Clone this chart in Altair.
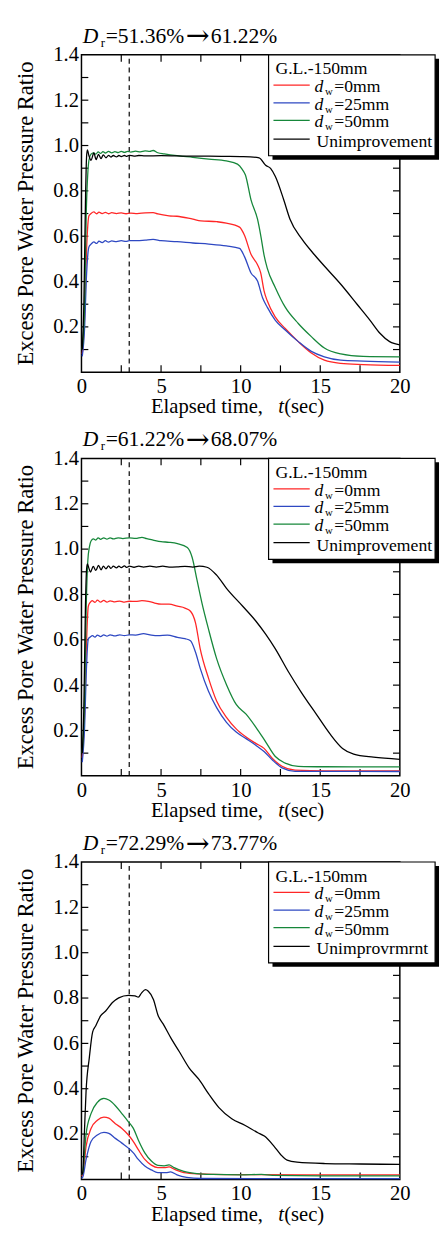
import altair as alt
import pandas as pd

FONT = "Liberation Serif"
W, H = 325, 324

# ---------------- data (t [s], excess pore water pressure ratio) ----------------
P1_RED = [(0.05,0.08),(0.2,0.25),(0.3,0.5),(0.4,0.65),(0.47,0.69),(0.6,0.7),(0.78,0.707),(0.95,0.699),
          (1.1,0.706),(1.3,0.7),(1.5,0.705),(1.7,0.699),(1.9,0.704),(2.2,0.7),(2.5,0.703),(2.8,0.699),
          (3.1,0.702),(3.5,0.7),(4.0,0.703),(4.5,0.704),(4.8,0.698),(5.5,0.69),(6.0,0.688),(7.0,0.675),
          (7.5,0.668),(8.5,0.664),(9.1,0.658),(9.93,0.64),(10.24,0.604),(10.65,0.52),(11.06,0.474),
          (11.26,0.438),(11.47,0.359),(11.67,0.315),(12.18,0.243),(12.8,0.193),(13.62,0.135),(14.44,0.085),
          (15.26,0.053),(16.29,0.039),(17.7,0.034),(20.0,0.03)]
P1_BLUE = [(0.05,0.07),(0.2,0.2),(0.3,0.4),(0.4,0.52),(0.47,0.553),(0.6,0.565),(0.78,0.575),(0.95,0.568),
           (1.1,0.578),(1.3,0.572),(1.5,0.58),(1.7,0.574),(1.9,0.579),(2.2,0.576),(2.5,0.58),(2.8,0.577),
           (3.0,0.58),(3.5,0.58),(4.0,0.583),(4.5,0.586),(5.0,0.58),(6.0,0.576),(7.0,0.57),(8.0,0.565),
           (9.1,0.557),(9.93,0.546),(10.24,0.51),(10.65,0.438),(11.06,0.402),(11.37,0.33),(11.67,0.287),
           (12.18,0.229),(12.8,0.186),(13.62,0.135),(14.44,0.092),(15.26,0.068),(16.29,0.053),(17.7,0.049),
           (20.0,0.045)]
P1_GREEN = [(0.05,0.1),(0.2,0.3),(0.3,0.7),(0.4,0.88),(0.47,0.935),(0.6,0.962),(0.75,0.968),(0.9,0.962),
            (1.05,0.972),(1.2,0.965),(1.35,0.973),(1.5,0.967),(1.7,0.974),(1.9,0.968),(2.1,0.973),(2.3,0.969),
            (2.5,0.974),(2.7,0.97),(2.9,0.974),(3.1,0.971),(3.4,0.975),(3.7,0.972),(4.0,0.976),(4.3,0.974),
            (4.5,0.978),(4.8,0.968),(5.2,0.963),(6.0,0.955),(7.0,0.948),(8.0,0.94),(9.1,0.932),(9.8,0.918),
            (10.1,0.895),(10.3,0.87),(10.65,0.76),(11.06,0.675),(11.26,0.604),(11.47,0.517),(11.67,0.459),
            (12.18,0.373),(12.8,0.287),(13.62,0.215),(14.44,0.157),(15.26,0.107),(16.29,0.081),(17.7,0.07),
            (20.0,0.068)]
P1_BLACK = [(0.05,0.1),(0.15,0.3),(0.25,0.75),(0.32,0.95),(0.37,0.981),(0.47,0.955),(0.6,0.935),(0.78,0.967),
            (0.92,0.938),(1.07,0.961),(1.23,0.942),(1.37,0.959),(1.54,0.946),(1.7,0.957),(1.85,0.949),
            (2.0,0.956),(2.2,0.95),(2.35,0.956),(2.5,0.951),(2.7,0.956),(2.85,0.952),(3.0,0.957),(3.3,0.953),
            (3.6,0.956),(4.0,0.954),(5.0,0.955),(6.0,0.954),(7.0,0.953),(8.0,0.953),(9.1,0.952),(10.0,0.951),
            (10.6,0.95),(11.16,0.946),(11.57,0.913),(11.88,0.899),(12.18,0.863),(12.7,0.762),(13.1,0.675),
            (13.83,0.589),(14.65,0.517),(15.47,0.452),(16.29,0.388),(17.3,0.301),(18.13,0.229),(18.75,0.172),
            (19.36,0.135),(20.0,0.121)]

P2_RED = [(0.05,0.08),(0.2,0.28),(0.3,0.55),(0.43,0.748),(0.55,0.765),(0.67,0.773),(0.85,0.765),(1.0,0.775),
          (1.2,0.766),(1.4,0.774),(1.6,0.766),(1.8,0.772),(2.1,0.767),(2.4,0.771),(2.7,0.766),(3.0,0.77),
          (3.4,0.769),(3.8,0.773),(4.2,0.77),(4.6,0.762),(5.0,0.757),(5.5,0.757),(6.03,0.748),(6.5,0.74),
          (6.85,0.726),(7.16,0.676),(7.46,0.56),(7.98,0.431),(8.49,0.33),(9.11,0.258),(9.72,0.207),
          (10.34,0.171),(10.95,0.143),(11.47,0.121),(11.98,0.078),(12.6,0.042),(13.42,0.025),(15.3,0.022),
          (20.0,0.022)]
P2_BLUE = [(0.05,0.06),(0.2,0.22),(0.3,0.45),(0.43,0.604),(0.55,0.612),(0.7,0.618),(0.85,0.612),(1.0,0.621),
           (1.2,0.614),(1.4,0.622),(1.6,0.616),(1.8,0.622),(2.1,0.617),(2.4,0.622),(2.7,0.618),(3.0,0.622),
           (3.4,0.621),(3.9,0.627),(4.3,0.622),(4.8,0.618),(5.4,0.621),(6.03,0.611),(6.5,0.605),(6.85,0.596),
           (7.16,0.546),(7.46,0.474),(7.98,0.373),(8.49,0.301),(9.11,0.236),(9.72,0.193),(10.34,0.164),
           (10.95,0.135),(11.47,0.107),(11.98,0.071),(12.6,0.035),(13.42,0.02),(20.0,0.019)]
P2_GREEN = [(0.05,0.1),(0.2,0.35),(0.3,0.75),(0.4,0.95),(0.5,1.01),(0.6,1.036),(0.75,1.045),(0.9,1.04),
            (1.05,1.05),(1.2,1.043),(1.4,1.05),(1.6,1.044),(1.8,1.05),(2.0,1.045),(2.3,1.05),(2.6,1.046),
            (3.0,1.05),(3.4,1.047),(3.8,1.052),(4.1,1.046),(4.5,1.04),(5.0,1.033),(5.5,1.03),(6.03,1.024),
            (6.65,1.007),(6.95,0.964),(7.26,0.863),(7.57,0.762),(7.98,0.647),(8.49,0.517),(9.11,0.402),
            (9.72,0.315),(10.34,0.272),(10.95,0.215),(11.57,0.15),(12.18,0.085),(12.8,0.056),(13.62,0.042),
            (15.3,0.04),(20.0,0.039)]
P2_BLACK = [(0.05,0.1),(0.15,0.3),(0.25,0.75),(0.32,0.91),(0.37,0.935),(0.47,0.915),(0.57,0.899),(0.74,0.924),
            (0.9,0.906),(1.07,0.928),(1.23,0.909),(1.38,0.925),(1.54,0.913),(1.7,0.926),(1.85,0.915),
            (2.0,0.925),(2.2,0.917),(2.35,0.925),(2.5,0.918),(2.7,0.926),(2.85,0.919),(3.0,0.925),(3.3,0.92),
            (3.6,0.925),(3.9,0.921),(4.3,0.925),(4.7,0.921),(5.1,0.925),(5.5,0.921),(6.0,0.922),(6.5,0.924),
            (7.0,0.921),(7.4,0.925),(7.88,0.92),(8.49,0.885),(9.11,0.827),(10.13,0.748),(10.95,0.683),
            (11.57,0.625),(12.18,0.56),(13.0,0.459),(13.83,0.366),(14.75,0.272),(15.6,0.186),(16.4,0.121),
            (17.1,0.096),(18.34,0.082),(20.0,0.073)]

P3_RED = [(0.0,0.015),(0.08,0.02),(0.29,0.146),(0.6,0.225),(1.0,0.261),(1.41,0.275),(1.72,0.27),(2.13,0.246),
          (2.54,0.225),(2.95,0.196),(3.26,0.167),(3.57,0.131),(3.98,0.088),(4.39,0.063),(4.8,0.052),(5.2,0.052),
          (5.5,0.055),(5.82,0.045),(6.43,0.03),(7.46,0.024),(9.0,0.021),(20.0,0.02)]
P3_BLUE = [(0.0,0.005),(0.08,0.01),(0.29,0.088),(0.6,0.167),(1.0,0.196),(1.41,0.207),(1.72,0.203),(2.13,0.181),
           (2.54,0.16),(2.95,0.138),(3.26,0.117),(3.57,0.088),(3.98,0.059),(4.39,0.042),(4.8,0.03),(5.3,0.03),
           (5.6,0.033),(6.0,0.02),(6.6,0.009),(7.5,0.004),(20.0,0.003)]
P3_GREEN = [(0.0,0.02),(0.08,0.03),(0.29,0.2),(0.6,0.29),(1.0,0.34),(1.41,0.357),(1.72,0.35),(2.13,0.325),
            (2.54,0.29),(2.95,0.254),(3.26,0.225),(3.57,0.174),(3.98,0.117),(4.39,0.081),(4.8,0.062),(5.2,0.06),
            (5.5,0.064),(5.82,0.052),(6.43,0.035),(7.25,0.026),(8.3,0.022),(10.0,0.02),(11.3,0.022),(12.0,0.018),
            (15.0,0.016),(20.0,0.016)]
P3_BLACK = [(0.0,0.02),(0.08,0.03),(0.18,0.2),(0.29,0.39),(0.49,0.535),(0.7,0.65),(0.9,0.678),(1.21,0.722),
            (1.52,0.743),(1.93,0.779),(2.34,0.801),(2.95,0.812),(3.36,0.81),(3.57,0.804),(3.77,0.822),(4.02,0.837),
            (4.2,0.83),(4.52,0.794),(4.82,0.722),(5.13,0.686),(5.64,0.621),(6.15,0.563),(6.77,0.491),(7.38,0.441),
            (8.0,0.376),(8.62,0.318),(9.44,0.268),(10.26,0.239),(11.08,0.206),(11.49,0.191),(12.1,0.146),
            (12.52,0.109),(12.92,0.085),(13.54,0.076),(15.3,0.07),(17.5,0.068),(20.0,0.066)]

TITLES = [("=51.36%", "61.22%"), ("=61.22%", "68.07%"), ("=72.29%", "73.77%")]
LEGEND_LAST = ["Unimprovement", "Unimprovement", "Unimprovrmrnt"]
SERIES_LABELS = ["=0mm", "=25mm", "=50mm"]
DEPTH_LABEL = "G.L.-150mm"
X_LABELS = [0, 5, 10, 15, 20]
Y_LABELS = [0.2, 0.4, 0.6, 0.8, 1.0, 1.2, 1.4]
X_TICKS = [2.5, 5, 7.5, 10, 12.5, 15, 17.5]
Y_TICKS = [0.1, 0.2, 0.3, 0.4, 0.5, 0.6, 0.7, 0.8, 0.9, 1.0, 1.1, 1.2, 1.3]
DASH_T = 3.0
X_MAX, Y_MAX = 20.0, 1.4

RED, BLUE, GREEN, BLACK = "#ff2626", "#2e48c2", "#16873a", "#000000"

ONE = pd.DataFrame({"k": [0]})

xs = alt.Scale(domain=[0, X_MAX], nice=False, zero=False)
ys = alt.Scale(domain=[0, Y_MAX], nice=False, zero=False)
xaxis = alt.Axis(values=X_LABELS, format="d", grid=False, domain=False, ticks=False, labelFlush=False,
                 labelFont=FONT, labelFontSize=21, labelColor="black", labelPadding=4, title=None)
yaxis = alt.Axis(values=Y_LABELS, format=".1f", grid=False, domain=False, ticks=False, labelFlush=False,
                 labelFont=FONT, labelFontSize=21, labelColor="black", labelPadding=3, title=None)


def X(field):
    return alt.X(field, type="quantitative", scale=xs, axis=xaxis)


def Y(field):
    return alt.Y(field, type="quantitative", scale=ys, axis=yaxis)


def series(pairs, color):
    df = pd.DataFrame(pairs, columns=["t", "v"])
    return alt.Chart(df).mark_line(color=color, strokeWidth=1.3, interpolate="monotone").encode(
        x=X("t"), y=Y("v"))


def txt(s, x, y, size, style="normal", align="left", angle=0, font=FONT):
    return alt.Chart(ONE).mark_text(text=s, font=font, fontSize=size, fontStyle=style, align=align,
                                    baseline="alphabetic", color="black", angle=angle).encode(
        x=alt.value(x), y=alt.value(y))


def ticks():
    tl_x = 7 * X_MAX / W
    tl_y = 7 * Y_MAX / H
    xt = pd.DataFrame({"t": X_TICKS})
    yt = pd.DataFrame({"v": Y_TICKS})
    out = []
    for base, end in [(0, tl_y), (Y_MAX, Y_MAX - tl_y)]:
        d = xt.assign(a=base, b=end)
        out.append(alt.Chart(d).mark_rule(color="black", strokeWidth=1.2).encode(
            x=X("t"), y=Y("a"), y2="b"))
    for base, end in [(0, tl_x), (X_MAX, X_MAX - tl_x)]:
        d = yt.assign(a=base, b=end)
        out.append(alt.Chart(d).mark_rule(color="black", strokeWidth=1.2).encode(
            y=Y("v"), x=X("a"), x2="b"))
    return out


def legend(last):
    layers = [
        alt.Chart(ONE).mark_rect(color="black").encode(
            x=alt.value(195), x2=alt.value(365), y=alt.value(4), y2=alt.value(107)),
        alt.Chart(ONE).mark_rect(fill="white", stroke="black", strokeWidth=1.2).encode(
            x=alt.value(191), x2=alt.value(361), y=alt.value(0), y2=alt.value(103)),
        txt(DEPTH_LABEL, 198, 20, 18),
    ]
    rows = [31, 49, 67, 86]
    for i, (col, lab) in enumerate(zip([RED, BLUE, GREEN, BLACK], SERIES_LABELS + [last])):
        y = rows[i]
        layers.append(alt.Chart(ONE).mark_rule(color=col, strokeWidth=1.3).encode(
            x=alt.value(196), x2=alt.value(233), y=alt.value(y)))
        if i < 3:
            layers += [txt("d", 238, y + 7, 18, "italic"),
                       txt("w", 248.5, y + 10, 11),
                       txt(lab, 258, y + 7, 18)]
        else:
            layers.append(txt(lab, 240, y + 8, 18))
    return layers


def panel(data, title, last):
    red, blue, green, black = data
    dash = alt.Chart(pd.DataFrame({"t": [DASH_T], "a": [0.0], "b": [Y_MAX]})).mark_rule(
        color="black", strokeWidth=1.2, strokeDash=[5, 4]).encode(x=X("t"), y=Y("a"), y2="b")
    layers = [dash] + ticks() + [series(red, RED), series(blue, BLUE), series(green, GREEN),
                                 series(black, BLACK)]
    layers += legend(last)
    a, b = title
    layers += [
        txt("D", 1.3, -12.3, 22, "italic"),
        txt("r", 19.7, -8.3, 13),
        txt(a, 24.7, -12.3, 22),
        txt("\u2192", 118.5, -9.6, 29, align="center", font="DejaVu Serif"),
        txt(b, 132, -12.3, 22),
        txt("Excess Pore Water Pressure Ratio", -49, H / 2, 23, angle=270, align="center"),
        txt("Elapsed time,", 71, H + 42, 21),
        txt("t", 201, H + 42, 21, "italic"),
        txt("(sec)", 207, H + 42, 21),
    ]
    return alt.layer(*layers).properties(width=W, height=H)


p1 = panel((P1_RED, P1_BLUE, P1_GREEN, P1_BLACK), TITLES[0], LEGEND_LAST[0])
p2 = panel((P2_RED, P2_BLUE, P2_GREEN, P2_BLACK), TITLES[1], LEGEND_LAST[1])
p3 = panel((P3_RED, P3_BLUE, P3_GREEN, P3_BLACK), TITLES[2], LEGEND_LAST[2])

chart = alt.vconcat(p1, p2, p3, spacing=88, bounds="flush").properties(
    padding={"left": 7, "top": 1, "right": 0, "bottom": 0}, background="white"
).configure_view(stroke="black", strokeWidth=1.5)

chart.save("out.html", embed_options={"renderer": "svg", "actions": False})
